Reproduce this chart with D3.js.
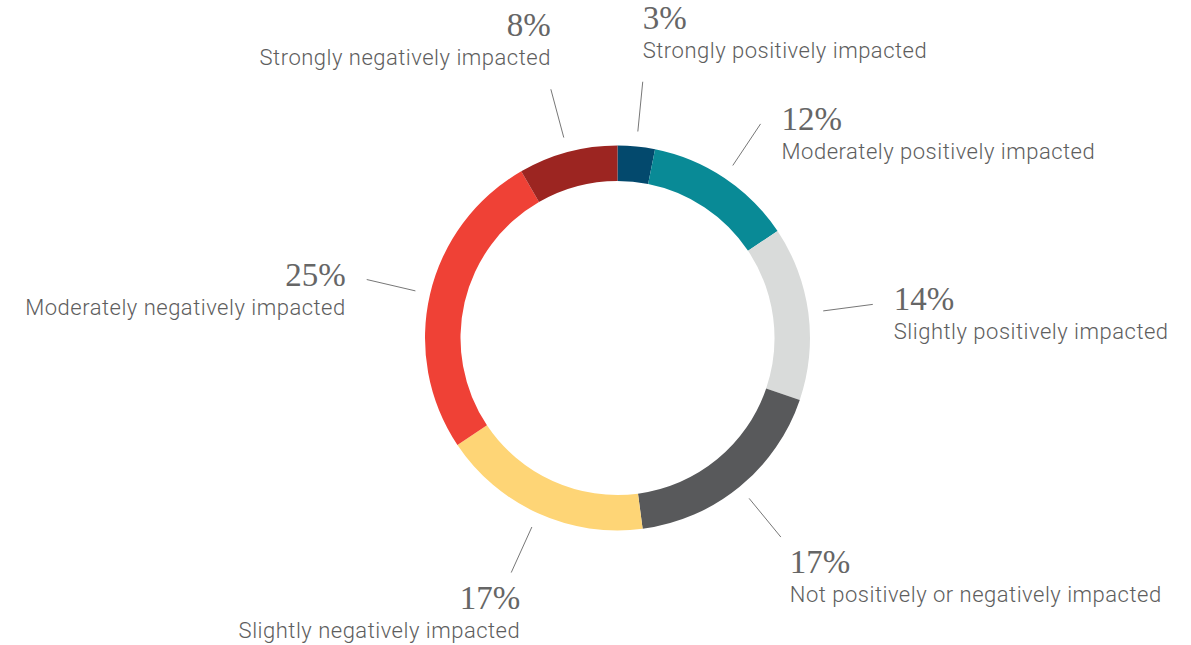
<!DOCTYPE html>
<html>
<head>
<meta charset="utf-8">
<script src="https://cdn.jsdelivr.net/npm/d3@7"></script>
<style>
  body { margin: 0; background: #fff; }
  .pct { font-family: "Liberation Serif", "DejaVu Serif", serif; font-size: 33px; fill: #666; }
  .lbl { font-family: Roboto, "Noto Sans", sans-serif; font-size: 22px; font-weight: 300; letter-spacing: 0.5px; fill: #5e5e5e; }
</style>
</head>
<body>
<svg id="board" width="1191" height="645"></svg>
<script>
// categories, clockwise from 12 o'clock
let categories = [
  'Strongly positively impacted',
  'Moderately positively impacted',
  'Slightly positively impacted',
  'Not positively or negatively impacted',
  'Slightly negatively impacted',
  'Moderately negatively impacted',
  'Strongly negatively impacted'
]
let values = [3, 12, 14, 17, 17, 25, 8]
let colors = ['#03496d', '#098a96', '#d9dbda', '#58595b', '#fed576', '#ef4136', '#9c2521']

let cx = 617.5
let cy = 338
let outerR = 192.5
let innerR = 157

let board = d3.select('#board')
let g = board.append('g').attr('transform', 'translate(' + cx + ',' + cy + ')')

let pie = d3.pie().sort(null).value((d) => d.value)
let data = pie(categories.map((c, i) => ({ name: c, value: values[i], color: colors[i] })))

let arc = d3.arc().innerRadius(innerR).outerRadius(outerR)

g.selectAll('path.slice')
  .data(data)
  .enter()
  .append('path')
  .attr('class', 'slice')
  .attr('d', arc)
  .attr('fill', (d) => d.data.color)

let midAngle = (d) => (d.startAngle + d.endAngle) / 2
let polar = (a, r) => [r * Math.sin(a), -r * Math.cos(a)]
let lineStart = (d) => polar(midAngle(d), outerR + 15)
let lineEnd = (d) => polar(midAngle(d), outerR + 65)

// leader lines
g.selectAll('line.leader')
  .data(data)
  .enter()
  .append('line')
  .attr('class', 'leader')
  .attr('x1', (d) => lineStart(d)[0])
  .attr('y1', (d) => lineStart(d)[1])
  .attr('x2', (d) => lineEnd(d)[0])
  .attr('y2', (d) => lineEnd(d)[1])
  .attr('stroke', '#777')
  .attr('stroke-width', 1)

// where the label block sits relative to the end of its leader line
let labelPos = (d) => {
  let a = midAngle(d)
  let e = lineEnd(d)
  let c = Math.cos(a)
  let side = Math.sin(a) >= 0 ? 1 : -1
  if (c > 0.95) return [e[0], e[1] - 53]      // above the line
  if (c < -0.7) return [e[0] + 9, e[1] + 36]   // below the line
  return [e[0] + side * 21, e[1] + 6]          // beside the line
}

let labels = g.selectAll('g.label')
  .data(data)
  .enter()
  .append('g')
  .attr('class', 'label')
  .attr('transform', (d) => 'translate(' + labelPos(d)[0] + ',' + labelPos(d)[1] + ')')
  .attr('text-anchor', (d) => Math.sin(midAngle(d)) >= 0 ? 'start' : 'end')

labels.append('text')
  .attr('class', 'pct')
  .text((d) => d.data.value + '%')

labels.append('text')
  .attr('class', 'lbl')
  .attr('y', 29)
  .text((d) => d.data.name)
</script>
</body>
</html>
